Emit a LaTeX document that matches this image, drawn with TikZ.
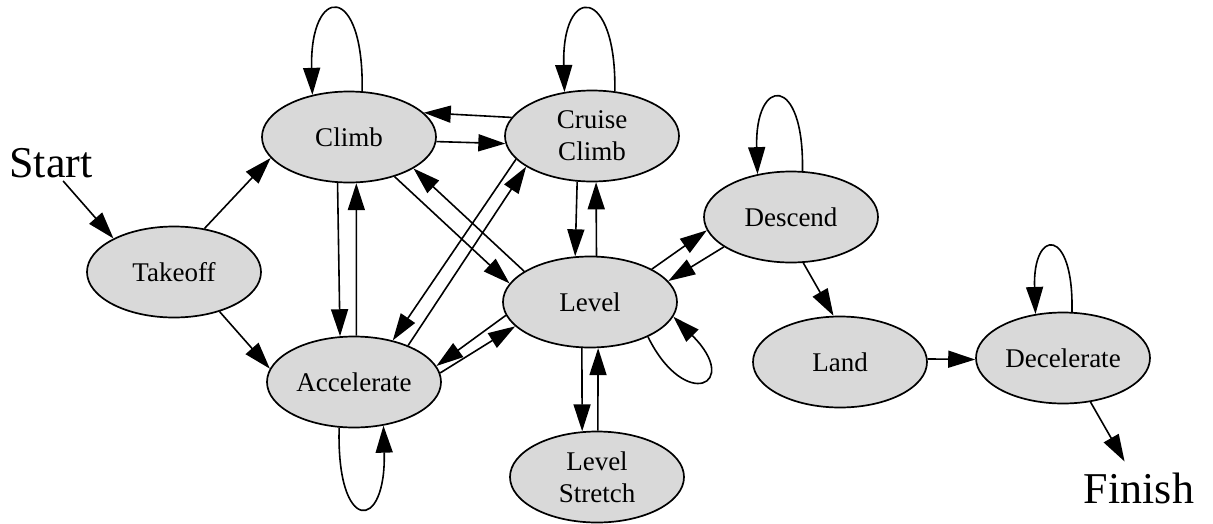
\documentclass[tikz,border=0pt]{standalone}
\usepackage{fontspec}
\setmainfont{Liberation Serif}
\usetikzlibrary{shapes.geometric,arrows.meta}
\tikzset{
  state/.style={ellipse, draw=black, line width=1.7pt, fill=stategray,
    minimum width=174pt, minimum height=91pt, inner sep=0pt, align=center,
    font=\fontsize{27}{32}\selectfont},
  bigtext/.style={inner sep=3pt, font=\fontsize{44}{50}\selectfont},
  edge/.style={line width=1.6pt, -{Triangle[length=27pt,width=17pt]}},
}
\definecolor{stategray}{RGB}{217,217,217}
\begin{document}
\begin{tikzpicture}[x=1pt,y=-1pt]
\useasboundingbox (0,0) rectangle (1213,523);
\node[state] (takeoff) at (174,272) {Takeoff};
\node[state] (climb) at (349,137) {Climb};
\node[state] (cruise) at (592,136) {Cruise\\Climb};
\node[state] (accel) at (354,382) {Accelerate};
\node[state] (level) at (590,302) {Level};
\node[state] (stretch) at (597,477) {Level\\Stretch};
\node[state] (descend) at (791,217) {Descend};
\node[state] (land) at (840,362) {Land};
\node[state] (decel) at (1063,358) {Decelerate};
\node[bigtext] (start) at (51,163) {Start};
\node[bigtext] (finish) at (1139,488) {Finish};

\draw[edge] (start.-56) -- (takeoff.151);
\draw[edge] (takeoff.55) -- (climb.195);
\draw[edge] (takeoff.-41) -- (accel.171);
\draw[edge] (climb.74) .. controls +(2,-110) and +(-3,-110) .. (climb.131);
\draw[edge] (cruise.167) -- (climb.18);
\draw[edge] (climb.-3) -- (cruise.185);
\draw[edge] (cruise.63) .. controls +(2,-106) and +(-3,-109) .. (cruise.122);
\draw[edge] (climb.-41.5) -- (level.167.6);
\draw[edge] (level.155.9) -- (climb.-26.1);
\draw[edge] (climb.256.6) -- (accel.107.5);
\draw[edge] (accel.87.5) -- (climb.-81.3);
\draw[edge] (accel.34.2) -- (cruise.205.3);
\draw[edge] (cruise.197.7) -- (accel.47.8);
\draw[edge] (cruise.252) -- (level.108.7);
\draw[edge] (level.82.4) -- (cruise.-85);
\draw[edge] (level.28.7) -- (descend.189);
\draw[edge] (descend.204.4) -- (level.15.5);
\draw[edge] (level.189.4) -- (accel.11.6);
\draw[edge] (accel.6) -- (level.198.2);
\draw[edge] (level.-31) .. controls (685,412) and (742,385) .. (level.-10.4);
\draw[edge] (accel.-108.7) .. controls +(-3,107) and +(3,107) .. (accel.-56.7);
\draw[edge] (level.260) -- (stretch.108.7);
\draw[edge] (stretch.89) -- (level.-80);
\draw[edge] (descend.76) .. controls +(2,-98) and +(-3,-98) .. (descend.128.4);
\draw[edge] (descend.-75) -- (land.98.8);
\draw[edge] (land.2) -- (decel.181);
\draw[edge] (decel.79) .. controls +(2,-86) and +(-3,-86) .. (decel.122.3);
\draw[edge, shorten >=9pt] (decel.-58.5) -- (finish.118);
\end{tikzpicture}
\end{document}
